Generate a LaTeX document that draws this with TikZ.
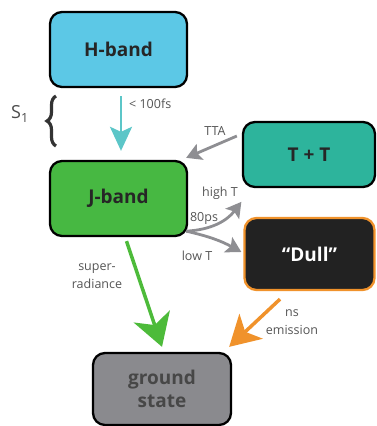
\documentclass[tikz,border=0pt]{standalone}
\usepackage{fontspec}
\setmainfont{Open Sans}
\usetikzlibrary{arrows.meta,calc,decorations.pathreplacing}
\definecolor{hblue}{HTML}{5CC8E6}
\definecolor{jgreen}{HTML}{47B842}
\definecolor{tteal}{HTML}{2DB49C}
\definecolor{dullfill}{HTML}{222222}
\definecolor{orng}{HTML}{F0922B}
\definecolor{gfill}{HTML}{8A8A8E}
\definecolor{gtext}{HTML}{474747}
\definecolor{arrcyan}{HTML}{5CC6C8}
\definecolor{arrgray}{HTML}{8E8E92}
\definecolor{arrgreen}{HTML}{4DBB3A}
\definecolor{lbl}{HTML}{555555}
\begin{document}
\begin{tikzpicture}[x=1pt,y=-1pt,
  box/.style={draw=black,line width=2.3pt,rounded corners=12pt,font=\fontsize{19}{21}\selectfont\bfseries,text=black!85},
  lab/.style={text=lbl,font=\fontsize{12.5}{17.5}\selectfont,inner sep=0pt,align=center},
  garrow/.style={draw=arrgray,line width=2.8pt,-{Stealth[length=15pt,width=17pt,inset=3pt]}}]
\useasboundingbox (0,0) rectangle (376,426);
\node[box,fill=hblue,minimum width=137pt,minimum height=75pt] (H) at (118.5,49.5) {H-band};
\node[box,fill=jgreen,minimum width=137pt,minimum height=75pt] (J) at (118.5,198.5) {J-band};
\node[box,fill=tteal,minimum width=132pt,minimum height=65pt] (TT) at (309,154.5) {T + T};
\node[box,draw=orng,fill=dullfill,text=white,minimum width=130pt,minimum height=72pt] (D) at (309.5,254) {“Dull”};
\node[box,fill=gfill,text=gtext,minimum width=138pt,minimum height=72pt,align=center,font=\fontsize{19}{23}\selectfont\bfseries] (G) at (162,389) {ground\\state};

% cyan arrow
\draw[draw=arrcyan,line width=2.8pt,-{Stealth[length=24pt,width=22pt,inset=5pt]}]
  ([xshift=2.5pt,yshift=-8pt]H.south) -- ([xshift=2.5pt,yshift=9pt]J.north);
\node[lab,anchor=west] (l100) at (129,104) {< 100fs};

% S1 brace
\node[text=black!70,font=\fontsize{18}{20}\selectfont,inner sep=0pt] (S1) at (20,114) {S\textsubscript{1}};
\draw[line width=3.2pt,draw=black!80,decorate,decoration={brace,amplitude=9pt}] (56,146) -- (56,96);

% TTA
\draw[garrow] ([xshift=-5pt,yshift=18.5pt]TT.west) -- ([xshift=-2pt,yshift=2pt]J.north east);
\node[lab] (lTTA) at (215,131) {TTA};

% high T / low T
\draw[garrow] ([xshift=-2pt,yshift=6pt]J.south east) to[bend right=25] ([xshift=-2pt,yshift=15pt]D.north west);
\draw[garrow] ([xshift=-2pt,yshift=6pt]J.south east) to[bend left=8] ([xshift=-2pt,yshift=2pt]D.west);
\node[lab] (lhigh) at (220,193) {high T};
\node[lab] (l80) at (204,218) {80ps};
\node[lab] (llow) at (197,256) {low T};

% superradiance
\draw[draw=arrgreen,line width=3.5pt,-{Stealth[length=32pt,width=38pt,inset=9pt]}]
  ([xshift=8pt,yshift=-4pt]J.south) -- ([yshift=5pt]G.north);
\node[lab] (lsr) at (97,276) {super-\\radiance};

% ns emission
\draw[draw=orng,line width=3.5pt,-{Stealth[length=30pt,width=34pt,inset=8pt]}]
  ([xshift=-29.5pt,yshift=-8pt]D.south) -- ([xshift=-3pt,yshift=5pt]G.north east);
\node[lab] (lns) at (292,322) {ns\\emission};
\end{tikzpicture}
\end{document}
